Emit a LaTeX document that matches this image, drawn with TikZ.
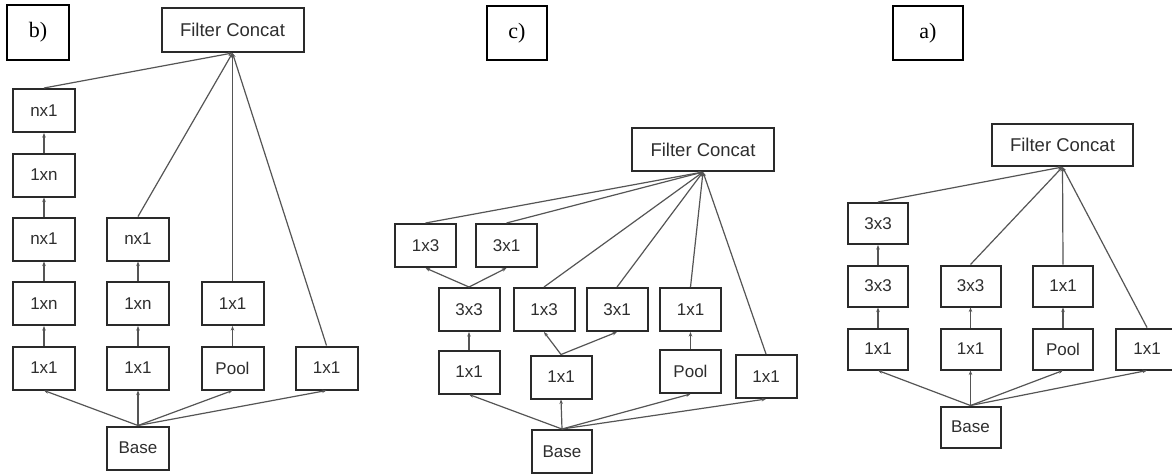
\documentclass[tikz,border=0pt]{standalone}
\usepackage{fontspec}
\setmainfont{Liberation Serif}
\setsansfont{Liberation Sans}
\usetikzlibrary{arrows.meta}
\definecolor{boxline}{HTML}{2A2A2A}
\definecolor{conn}{HTML}{555555}
\definecolor{txt}{HTML}{2E2E2E}
\begin{document}
\begin{tikzpicture}[x=1pt,y=-1pt,
  op/.style={draw=boxline, line width=2pt, inner sep=0pt, minimum width=62pt, minimum height=43pt,
    font=\sffamily\fontsize{17}{19}\selectfont, text=txt},
  fc/.style={op, minimum width=142pt, font=\sffamily\fontsize{18.5}{20}\selectfont},
  lab/.style={draw=black, line width=1.3pt, inner sep=0pt, minimum width=62pt, minimum height=55pt,
    font=\fontsize{22}{24}\selectfont},
  cn/.style={draw=conn, line width=1.2pt, -{Stealth[length=4.5pt,width=3.5pt]}}
]
\useasboundingbox (0,0) rectangle (1172,475);
\clip (0,0) rectangle (1172,475);
\fill[white] (0,0) rectangle (1172,475);

% ---------------- panel b ----------------
\node[lab] (bL) at (38,32.5) {b)};
\node[fc, minimum height=44pt] (bFC) at (232.5,30) {Filter Concat};
\coordinate (bA) at (232.5,53);
\node[op] (b11) at (44,110.5) {nx1};
\node[op] (b12) at (44,175) {1xn};
\node[op] (b13) at (44,239) {nx1};
\node[op] (b14) at (44,303.5) {1xn};
\node[op] (b15) at (44,368) {1x1};
\node[op] (b23) at (138,239) {nx1};
\node[op] (b24) at (138,303.5) {1xn};
\node[op] (b25) at (138,368) {1x1};
\node[op] (b34) at (232.5,303.5) {1x1};
\node[op] (b35) at (232.5,368) {Pool};
\node[op] (b45) at (326.5,368) {1x1};
\node[op] (bB) at (138,448) {Base};

\draw[cn] (b15.north) -- (b14.south);
\draw[cn] (b14.north) -- (b13.south);
\draw[cn] (b13.north) -- (b12.south);
\draw[cn] (b12.north) -- (b11.south);
\draw[cn] (b25.north) -- (b24.south);
\draw[cn] (b24.north) -- (b23.south);
\draw[cn] (b35.north) -- (b34.south);
\draw[cn] (bB.north) -- (b15.south);
\draw[cn] (bB.north) -- (b25.south);
\draw[cn] (bB.north) -- (b35.south);
\draw[cn] (bB.north) -- (b45.south);
\draw[cn] (b11.north) -- (bA);
\draw[cn] (b23.north) -- (bA);
\draw[cn] (b34.north) -- (bA);
\draw[cn] (b45.north) -- (bA);

% ---------------- panel c ----------------
\node[lab, minimum width=60pt, minimum height=54pt] (cL) at (517,33) {c)};
\node[fc] (cFC) at (703,149.5) {Filter Concat};
\coordinate (cA) at (703,172);
\node[op, minimum width=61pt] (c1a) at (425.5,245.5) {1x3};
\node[op, minimum width=61pt] (c1b) at (506.5,245.5) {3x1};
\node[op, minimum width=61pt] (c2a) at (469,309.5) {3x3};
\node[op, minimum width=61pt] (c2b) at (544,309.5) {1x3};
\node[op, minimum width=61pt] (c2c) at (617,309.5) {3x1};
\node[op, minimum width=61pt] (c2d) at (690.5,309.5) {1x1};
\node[op, minimum width=61pt] (c3a) at (469,372) {1x1};
\node[op, minimum width=61pt] (c3b) at (561,377) {1x1};
\node[op, minimum width=61pt] (c3c) at (690.5,371.5) {Pool};
\node[op, minimum width=61pt] (c3d) at (766,376.5) {1x1};
\node[op, minimum width=60pt] (cB) at (562,451.5) {Base};

\draw[cn] (c3a.north) -- (c2a.south);
\draw[cn] (c2a.north) -- (c1a.south);
\draw[cn] (c2a.north) -- (c1b.south);
\draw[cn] (c3b.north) -- (c2b.south);
\draw[cn] (c3b.north) -- (c2c.south);
\draw[cn] (c3c.north) -- (c2d.south);
\draw[cn] (cB.north) -- (c3a.south);
\draw[cn] (cB.north) -- (c3b.south);
\draw[cn] (cB.north) -- (c3c.south);
\draw[cn] (cB.north) -- (c3d.south);
\draw[cn] (c1a.north) -- (cA);
\draw[cn] (c1b.north) -- (cA);
\draw[cn] (c2b.north) -- (cA);
\draw[cn] (c2c.north) -- (cA);
\draw[cn] (c2d.north) -- (cA);
\draw[cn] (c3d.north) -- (cA);

% ---------------- panel a ----------------
\node[lab, minimum width=70pt, minimum height=54pt] (aL) at (928,33) {a)};
\node[fc, minimum width=141pt, minimum height=42pt] (aFC) at (1062.5,145) {Filter Concat};
\coordinate (aA) at (1062.5,167);
\node[op, minimum width=60pt, minimum height=41pt] (a11) at (878,223.5) {3x3};
\node[op, minimum width=60pt, minimum height=41pt] (a21) at (878,286) {3x3};
\node[op, minimum width=60pt, minimum height=41pt] (a22) at (970.5,286) {3x3};
\node[op, minimum width=60pt, minimum height=41pt] (a23) at (1063,286) {1x1};
\node[op, minimum width=60pt, minimum height=41pt] (a31) at (878,349) {1x1};
\node[op, minimum width=60pt, minimum height=41pt] (a32) at (970.5,349) {1x1};
\node[op, minimum width=60pt, minimum height=41pt] (a33) at (1063,349) {Pool};
\node[op, minimum width=62pt, minimum height=41pt] (a34) at (1147,349) {1x1};
\node[op, minimum width=60pt, minimum height=41pt] (aB) at (970.5,427) {Base};

\draw[cn] (a31.north) -- (a21.south);
\draw[cn] (a21.north) -- (a11.south);
\draw[cn] (a32.north) -- (a22.south);
\draw[cn] (a33.north) -- (a23.south);
\draw[cn] (aB.north) -- (a31.south);
\draw[cn] (aB.north) -- (a32.south);
\draw[cn] (aB.north) -- (a33.south);
\draw[cn] (aB.north) -- (a34.south);
\draw[cn] (a11.north) -- (aA);
\draw[cn] (a22.north) -- (aA);
\draw[cn] (a23.north) -- (aA);
\draw[cn] (a34.north) -- (aA);
\end{tikzpicture}
\end{document}
